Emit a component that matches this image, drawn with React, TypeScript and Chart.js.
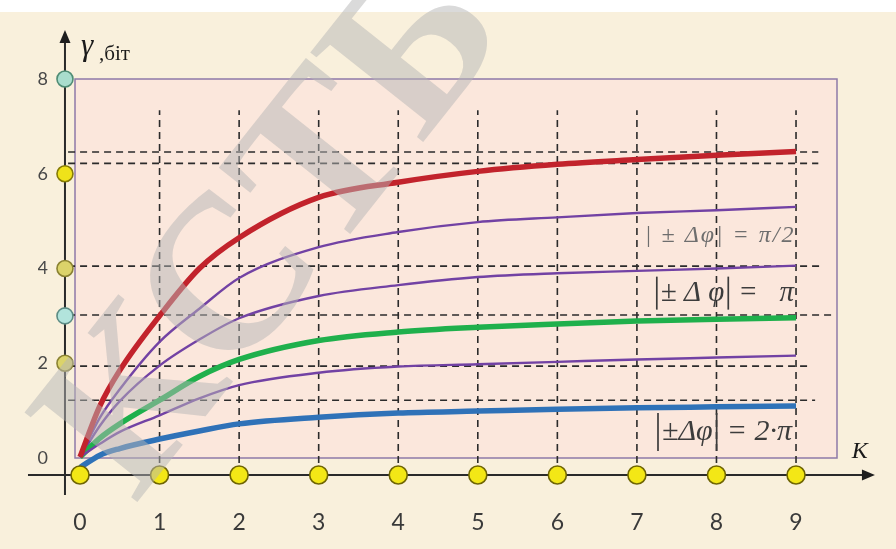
import React, { useEffect, useRef } from 'react';
import { Chart, registerables } from 'chart.js';

Chart.register(...registerables);

// Horizontal axis: number of repetitions K
const kTicks = [0, 1, 2, 3, 4, 5, 6, 7, 8, 9];
// Vertical axis: information amount γ, bits
const gammaTicks = [0, 2, 4, 6, 8];

// Sample points along K for every curve
const kSamples = [0, 0.25, 0.5, 1, 1.5, 2, 3, 4, 5, 6, 7, 8, 9];
const gammaRed = [0.02, 1.1, 1.85, 3.0, 4.0, 4.65, 5.5, 5.82, 6.05, 6.2, 6.3, 6.39, 6.47];
const gammaViolet1 = [0.02, 0.85, 1.45, 2.45, 3.15, 3.8, 4.45, 4.77, 4.98, 5.08, 5.17, 5.23, 5.3];
const gammaViolet2 = [0.02, 0.68, 1.2, 1.95, 2.5, 2.95, 3.42, 3.65, 3.82, 3.9, 3.95, 4.0, 4.06];
const gammaGreen = [0.02, 0.42, 0.72, 1.22, 1.72, 2.08, 2.48, 2.66, 2.76, 2.83, 2.89, 2.93, 2.96];
const gammaViolet3 = [0.02, 0.3, 0.55, 0.9, 1.26, 1.54, 1.8, 1.93, 1.98, 2.03, 2.08, 2.12, 2.16];
const gammaBlue = [-0.2, 0.06, 0.2, 0.4, 0.57, 0.72, 0.86, 0.95, 0.99, 1.03, 1.06, 1.08, 1.1];

// Dashed reference levels (γ) and where each one stops on the right (K)
const levelGamma = [6.46, 6.22, 4.05, 3.02, 1.94, 1.22];
const levelEndK = [9.28, 9.28, 9.34, 9.46, 9.2, 9.24];
const levelStartK = -0.15;

// Dashed verticals at integer K, reaching up to this level
const gridKs = [1, 2, 3, 4, 5, 6, 7, 8, 9];
const gridTopGamma = 7.34;

// Marked values on the γ axis
const gammaMarks = [8, 6, 4, 3, 2];
const gammaMarkFill = ['#a9ddcd', '#efe21a', '#dbd36a', '#b2e4dc', '#dbd36a'];
const gammaMarkEdge = ['#4f8c74', '#857b06', '#8a8232', '#5c8c84', '#8a8232'];

// Where the drawn axes cross, in data units
const axisK = -0.189;
const axisGamma = -0.359;
const axisKRange = [-0.654, 9.992];
const axisGammaRange = [-0.781, 9.034];

const xMin = -0.063;
const xMax = 9.515;

const curve = (vals: number[], color: string, width: number, order: number) => ({
  type: 'line' as const,
  data: kSamples.map((k, i) => ({ x: k, y: vals[i] })),
  borderColor: color,
  borderWidth: width,
  pointRadius: 0,
  cubicInterpolationMode: 'monotone' as const,
  fill: false,
  clip: false as any,
  order,
});

function bar(ctx: CanvasRenderingContext2D, x: number, y0: number, y1: number) {
  ctx.beginPath();
  ctx.moveTo(x, y0);
  ctx.lineTo(x, y1);
  ctx.stroke();
}

function dot(ctx: CanvasRenderingContext2D, x: number, y: number, r: number, fill: string, edge: string) {
  ctx.beginPath();
  ctx.arc(x, y, r, 0, Math.PI * 2);
  ctx.fillStyle = fill;
  ctx.fill();
  ctx.lineWidth = 1.6;
  ctx.strokeStyle = edge;
  ctx.stroke();
}

// |inner| rest, with tall modulus bars
function absLabel(
  ctx: CanvasRenderingContext2D,
  x: number,
  yMid: number,
  inner: string,
  rest: string,
  size: number,
  color: string,
  barH: number,
) {
  ctx.font = `italic ${size}px "Liberation Serif"`;
  ctx.fillStyle = color;
  ctx.strokeStyle = color;
  ctx.lineWidth = 1.7;
  ctx.textBaseline = 'middle';
  ctx.textAlign = 'left';
  bar(ctx, x, yMid - barH / 2, yMid + barH / 2);
  let cx = x + 4;
  ctx.fillText(inner, cx, yMid);
  cx += ctx.measureText(inner).width + 4;
  bar(ctx, cx, yMid - barH / 2, yMid + barH / 2);
  cx += 10;
  ctx.fillText(rest, cx, yMid);
}

const paperPlugin = {
  id: 'paper',
  beforeDraw(chart: any) {
    const { ctx, width, height, chartArea: a } = chart;
    ctx.save();
    ctx.fillStyle = '#f9f0dc';
    ctx.fillRect(0, 0, width, height);
    ctx.fillStyle = '#ffffff';
    ctx.fillRect(0, 0, width, 12);
    ctx.fillStyle = '#fbe7dc';
    ctx.fillRect(a.left, a.top, a.right - a.left, a.bottom - a.top);
    ctx.strokeStyle = '#8e7aa8';
    ctx.lineWidth = 1.5;
    ctx.strokeRect(a.left, a.top, a.right - a.left, a.bottom - a.top);
    ctx.restore();
  },
  beforeDatasetsDraw(chart: any) {
    const { ctx, scales } = chart;
    const x = scales.x;
    const y = scales.y;
    const ax = x.getPixelForValue(axisK);
    const ay = y.getPixelForValue(axisGamma);
    const yTop = y.getPixelForValue(axisGammaRange[1]);
    const yBot = y.getPixelForValue(axisGammaRange[0]);
    const xL = x.getPixelForValue(axisKRange[0]);
    const xR = x.getPixelForValue(axisKRange[1]);
    ctx.save();
    ctx.strokeStyle = '#2a2a2a';
    ctx.fillStyle = '#1e1e1e';
    ctx.lineWidth = 2;
    ctx.beginPath();
    ctx.moveTo(ax, yBot);
    ctx.lineTo(ax, yTop + 10);
    ctx.moveTo(xL, ay);
    ctx.lineTo(xR - 10, ay);
    ctx.stroke();
    ctx.beginPath();
    ctx.moveTo(ax, yTop);
    ctx.lineTo(ax - 5.5, yTop + 13);
    ctx.lineTo(ax + 5.5, yTop + 13);
    ctx.closePath();
    ctx.fill();
    ctx.beginPath();
    ctx.moveTo(xR, ay);
    ctx.lineTo(xR - 13, ay - 5.5);
    ctx.lineTo(xR - 13, ay + 5.5);
    ctx.closePath();
    ctx.fill();
    ctx.restore();
  },
  afterDatasetsDraw(chart: any) {
    const { ctx, scales } = chart;
    const x = scales.x;
    const y = scales.y;
    ctx.save();

    // marker dots on both axes
    kTicks.forEach((k) => dot(ctx, x.getPixelForValue(k), y.getPixelForValue(axisGamma), 9, '#f3e716', '#6f6502'));
    gammaMarks.forEach((g, i) =>
      dot(ctx, x.getPixelForValue(axisK), y.getPixelForValue(g), 8, gammaMarkFill[i], gammaMarkEdge[i]),
    );

    // axis names
    ctx.fillStyle = '#1a1a1a';
    ctx.textBaseline = 'alphabetic';
    ctx.textAlign = 'left';
    ctx.font = 'italic 31px "Liberation Serif"';
    ctx.fillText('γ', x.getPixelForValue(axisK) + 16, y.getPixelForValue(8.5));
    ctx.font = '21px "Liberation Serif"';
    ctx.fillText(',біт', x.getPixelForValue(axisK) + 34, y.getPixelForValue(8.4));
    ctx.font = 'italic 24px "Liberation Serif"';
    ctx.fillText('K', x.getPixelForValue(9.7), y.getPixelForValue(0.0));

    // curve captions
    ctx.font = 'italic 24px "Liberation Serif"';
    ctx.fillStyle = '#6e6e6e';
    ctx.textBaseline = 'middle';
    (ctx as any).letterSpacing = '2px';
    ctx.fillText('| ± Δφ| = π/2', x.getPixelForValue(7.1), y.getPixelForValue(4.69));
    (ctx as any).letterSpacing = '0px';
    absLabel(ctx, x.getPixelForValue(7.25), y.getPixelForValue(3.48), '± Δ φ', '=   π', 29, '#3c3c3c', 33);
    absLabel(ctx, x.getPixelForValue(7.265), y.getPixelForValue(0.55), '±Δφ', '= 2·π', 30, '#3c3c3c', 38);
    ctx.restore();
  },
  afterDraw(chart: any) {
    const { ctx } = chart;
    ctx.save();
    ctx.translate(135, 505);
    ctx.rotate(-0.9);
    ctx.font = 'bold 220px "Liberation Serif"';
    ctx.fillStyle = 'rgba(182,182,182,0.5)';
    ctx.textBaseline = 'alphabetic';
    ctx.textAlign = 'left';
    ctx.fillText('КСТБ', 0, 0);
    ctx.restore();
  },
};

export default function App() {
  const ref = useRef<HTMLCanvasElement | null>(null);

  useEffect(() => {
    document.body.style.margin = '0';
    const canvas = ref.current;
    if (!canvas) return;

    const vertical = gridKs.flatMap((k) => [
      { x: k, y: axisGamma },
      { x: k, y: gridTopGamma },
      { x: k, y: null as any },
    ]);
    const horizontal = levelGamma.flatMap((g, i) => [
      { x: levelStartK, y: g },
      { x: levelEndK[i], y: g },
      { x: levelEndK[i], y: null as any },
    ]);

    const chart = new Chart(canvas, {
      type: 'line',
      data: {
        datasets: [
          {
            type: 'line',
            data: vertical,
            borderColor: '#2b2b2b',
            borderWidth: 1.6,
            borderDash: [7, 5],
            pointRadius: 0,
            spanGaps: false,
            clip: false as any,
            order: 6,
          },
          {
            type: 'line',
            data: horizontal,
            borderColor: '#2b2b2b',
            borderWidth: 1.6,
            borderDash: [7, 5],
            pointRadius: 0,
            spanGaps: false,
            clip: false as any,
            order: 5,
          },
          curve(gammaBlue, '#2f72b8', 5.5, 3),
          curve(gammaViolet3, '#7242a4', 2.4, 3),
          curve(gammaGreen, '#1fb04c', 5.5, 3),
          curve(gammaViolet2, '#7242a4', 2.4, 3),
          curve(gammaViolet1, '#7242a4', 2.4, 3),
          curve(gammaRed, '#c2232c', 5.5, 2),
        ] as any,
      },
      options: {
        responsive: false,
        animation: false,
        events: [],
        layout: { padding: { left: 38, right: 59, top: 79, bottom: 13 } },
        plugins: { legend: { display: false }, tooltip: { enabled: false } },
        scales: {
          x: {
            type: 'linear',
            min: xMin,
            max: xMax,
            grid: { display: false, drawTicks: false },
            border: { display: false },
            afterBuildTicks: (s: any) => {
              s.ticks = kTicks.map((v) => ({ value: v }));
            },
            afterFit: (s: any) => {
              s.height = 78;
            },
            ticks: {
              autoSkip: false,
              maxRotation: 0,
              padding: 51,
              color: '#3a3a3a',
              font: { family: 'Lato', size: 23 },
              callback: (v: any) => String(v),
            },
          },
          y: {
            type: 'linear',
            min: 0,
            max: 8,
            grid: { display: false, drawTicks: false },
            border: { display: false },
            afterBuildTicks: (s: any) => {
              s.ticks = gammaTicks.map((v) => ({ value: v }));
            },
            afterFit: (s: any) => {
              s.width = 37;
            },
            ticks: {
              padding: 27,
              color: '#484848',
              font: { family: 'Lato', size: 18 },
              callback: (v: any) => String(v),
            },
          },
        },
      } as any,
      plugins: [paperPlugin],
    });

    return () => chart.destroy();
  }, []);

  return (
    <div style={{ width: 896, height: 549 }}>
      <canvas ref={ref} width={896} height={549} style={{ display: 'block', width: 896, height: 549 }} />
    </div>
  );
}
